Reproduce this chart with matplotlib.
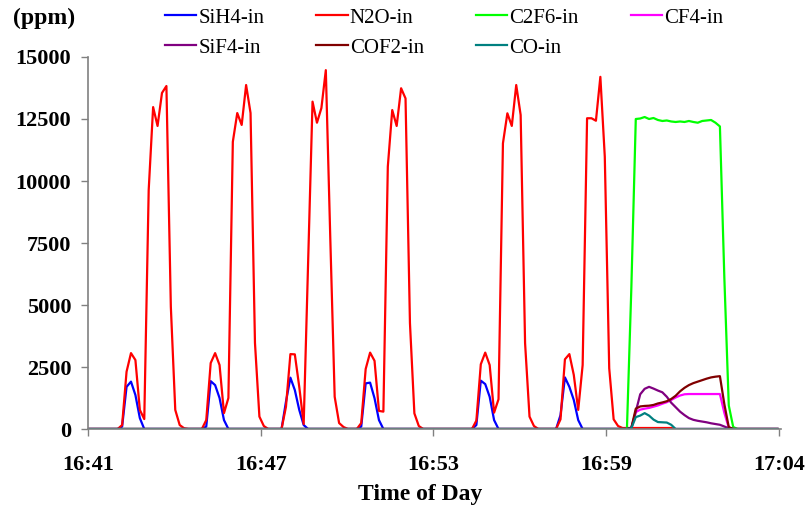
import matplotlib
matplotlib.use("Agg")
import matplotlib.pyplot as plt
import numpy as np

plt.rcParams['font.family'] = ['Liberation Serif', 'DejaVu Serif']

# sample grid: one reading every ~9.2 s, minutes after 16:41
n_samples = 157
sample_step = 0.1538
sample_offset = -0.045

tick_minutes = [0, 6, 12, 18, 24]
tick_labels = ["16:41", "16:47", "16:53", "16:59", "17:04"]
y_ticks = [0, 2500, 5000, 7500, 10000, 12500, 15000]

sih4_in = ([0] * 8 + [100, 1700, 1910, 1370, 440] + [0] * 14
           + [100, 1930, 1770, 1250, 360] + [0] * 13
           + [1100, 2070, 1570, 770, 160] + [0] * 12
           + [100, 1840, 1870, 1240, 360] + [0] * 21
           + [160, 1950, 1810, 1300, 360] + [0] * 14
           + [560, 2080, 1700, 1170, 360] + [0] * 45)

n2o_in = ([0] * 8
          + [160, 2310, 3060, 2780, 770, 400, 9640, 12980, 12220, 13550, 13830, 4930, 770, 160, 30]
          + [0] * 4
          + [360, 2660, 3060, 2580, 640, 1250, 11580, 12740, 12260, 13870, 12740, 3470, 500, 120]
          + [0] * 4
          + [900, 3020, 3010, 1700, 200, 6700, 13200, 12350, 12940, 14470, 7750, 1300, 240, 80]
          + [0] * 3
          + [240, 2420, 3080, 2750, 730, 700, 10580, 12860, 12220, 13740, 13330, 4270, 630, 120]
          + [0] * 12
          + [340, 2610, 3080, 2580, 660, 1200, 11520, 12730, 12220, 13870, 12660, 3460, 500, 120]
          + [0] * 5
          + [390, 2810, 3020, 2180, 770, 2580, 12530, 12530, 12430, 14200, 10980, 2450, 390, 120]
          + [40] * 12 + [0] * 24)

c2f6_in = ([0] * 123
           + [5700, 12500, 12520, 12580, 12500, 12540, 12460, 12420, 12440, 12400, 12380, 12400,
              12380, 12420, 12380, 12350, 12420, 12440, 12460, 12350, 12200, 6100, 950, 80]
           + [0] * 10)

cf4_in = ([0] * 123
          + [30, 680, 780, 820, 850, 900, 950, 1020, 1080, 1170, 1270, 1350, 1400]
          + [1410] * 8 + [650, 50] + [0] * 11)

sif4_in = ([0] * 123
           + [50, 700, 1400, 1620, 1700, 1630, 1550, 1480, 1300, 1060, 880, 700, 560, 440, 370,
              330, 300, 270, 230, 200, 170, 100, 30]
           + [0] * 11)

cof2_in = ([0] * 123
           + [50, 820, 910, 930, 940, 970, 1030, 1070, 1120, 1210, 1340, 1520, 1660, 1770, 1850,
              1910, 1970, 2030, 2080, 2110, 2130, 1000, 80]
           + [0] * 11)

co_in = [0] * 123 + [30, 480, 540, 640, 540, 380, 280, 270, 260, 170] + [0] * 24


def PlotGasConcentrations():
    t = np.arange(n_samples) * sample_step + sample_offset

    fig = plt.figure(figsize=(8.09, 5.11), dpi=100)
    ax = fig.add_axes([88 / 809, 1 - 429 / 511, (781 - 88) / 809, (429 - 57) / 511])

    ax.plot(t, sih4_in, color='#0000FF', lw=1.6, label="SiH4-in")
    ax.plot(t, n2o_in, color='#FF0000', lw=1.6, label="N2O-in")
    ax.plot(t, c2f6_in, color='#00FF00', lw=1.6, label="C2F6-in")
    ax.plot(t, cf4_in, color='#FF00FF', lw=1.6, label="CF4-in")
    ax.plot(t, sif4_in, color='#800080', lw=1.6, label="SiF4-in")
    ax.plot(t, cof2_in, color='#800000', lw=1.6, label="COF2-in")
    ax.plot(t, co_in, color='#008080', lw=1.6, label="CO-in")

    ax.set_xlim(0, 24.07)
    ax.set_ylim(0, 15000)
    ax.set_xticks(tick_minutes)
    ax.set_xticklabels(tick_labels, fontweight='bold', fontsize=16)
    ax.set_yticks(y_ticks)
    ax.set_yticklabels([str(v) for v in y_ticks], fontweight='bold', fontsize=16)
    ax.tick_params(axis='both', direction='out', length=5, width=1, color='#808080')
    ax.tick_params(axis='x', pad=14)
    ax.tick_params(axis='y', pad=7)

    for side in ['top', 'right']:
        ax.spines[side].set_visible(False)
    for side in ['left', 'bottom']:
        ax.spines[side].set_color('#808080')
        ax.spines[side].set_linewidth(1.2)

    ax.set_xlabel("Time of Day", fontweight='bold', fontsize=17, va='center')
    ax.xaxis.set_label_coords((420 - 88) / 693, (429 - 494) / 372)
    fig.text(13 / 809, 1 - 18 / 511, "(ppm)", fontweight='bold', fontsize=17, va='center')

    # matplotlib fills legend columns first, so reorder to get Excel's row order
    handles, labels = ax.get_legend_handles_labels()
    order = [0, 4, 1, 5, 2, 6, 3]
    ax.legend([handles[i] for i in order], [labels[i] for i in order],
              loc='upper left', bbox_to_anchor=(165 / 809, 1 - 8 / 511),
              bbox_transform=fig.transFigure, ncol=4, frameon=False, fontsize=15,
              handlelength=1.5, handletextpad=0.1, columnspacing=2.5,
              labelspacing=0.5, borderpad=0, borderaxespad=0)

    fig.savefig("out.png", dpi=100)


PlotGasConcentrations()
